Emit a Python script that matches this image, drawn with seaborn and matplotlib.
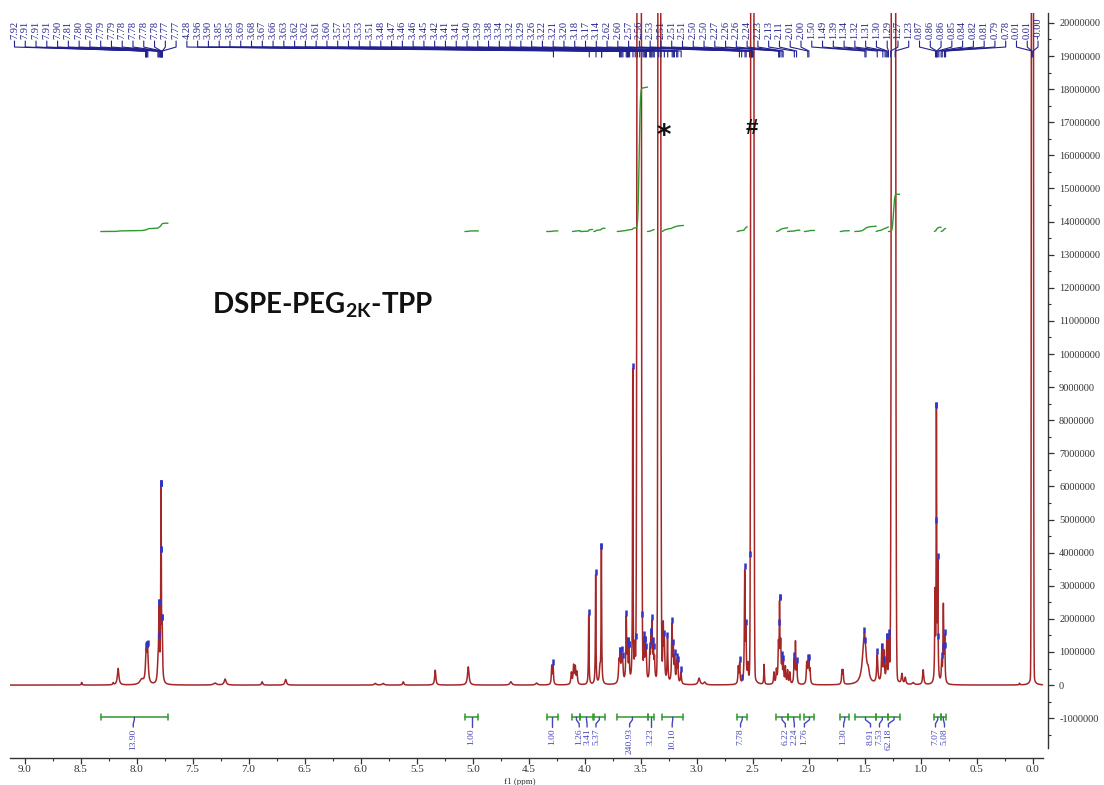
import numpy as np
import pandas as pd
import matplotlib
matplotlib.use("Agg")
import matplotlib.pyplot as plt
import matplotlib.transforms as mtransforms
from matplotlib.ticker import MultipleLocator, FuncFormatter
import seaborn as sns

sns.set_theme(style="white")
plt.rcParams['font.family'] = ['Liberation Serif', 'DejaVu Serif']
plt.rcParams['axes.unicode_minus'] = False
plt.rcParams['mathtext.fontset'] = 'custom'
plt.rcParams['mathtext.bf'] = 'Lato:bold'
plt.rcParams['mathtext.rm'] = 'Lato'
plt.rcParams['mathtext.it'] = 'Lato:italic'

# ---------------- data ----------------
# resolved (on-scale) resonances: position (ppm), height (x1e6), half width (ppm)
peak_ppm = [8.49, 8.21, 8.165, 7.955, 7.915, 7.902, 7.81, 7.800, 7.782, 7.772,
            7.30, 7.21, 6.88, 6.67, 5.87, 5.80, 5.62, 5.335, 5.04, 4.66, 4.43,
            4.295, 4.283, 4.12, 4.10, 4.085, 4.07, 3.965, 3.903, 3.865, 3.852,
            3.695, 3.685, 3.672, 3.662, 3.630, 3.618, 3.605, 3.572, 3.553,
            3.490, 3.472, 3.460, 3.452, 3.420, 3.410, 3.400, 3.388, 3.378,
            3.318, 3.300, 3.290, 3.262, 3.222, 3.210, 3.198, 3.180, 3.170, 3.142,
            2.98, 2.93, 2.630, 2.618, 2.573, 2.562, 2.545, 2.400, 2.312, 2.290,
            2.272, 2.262, 2.252, 2.240, 2.228, 2.210, 2.190, 2.170,
            2.132, 2.120, 2.108, 2.020, 2.010, 2.000, 1.990, 1.705, 1.695,
            1.505, 1.470, 1.390, 1.348, 1.330, 1.305, 1.285, 1.170, 1.140, 1.070,
            0.980, 0.875, 0.862, 0.850, 0.815, 0.800, 0.788, 0.12]
peak_height = [0.08, 0.06, 0.50, 0.15, 0.85, 0.95, 0.45, 2.1, 5.7, 1.4,
               0.06, 0.18, 0.10, 0.17, 0.05, 0.05, 0.10, 0.45, 0.55, 0.10, 0.06,
               0.55, 0.55, 0.35, 0.55, 0.50, 0.35, 2.1, 3.3, 0.45, 4.0,
               0.6, 0.7, 0.7, 0.55, 1.9, 0.9, 0.9, 9.4, 1.0,
               1.6, 1.1, 0.9, 0.7, 0.8, 1.1, 1.6, 0.9, 0.6,
               1.3, 1.6, 1.1, 1.3, 1.7, 0.9, 0.7, 0.6, 0.55, 0.35,
               0.2, 0.08, 0.5, 0.6, 3.3, 1.4, 0.5, 0.6, 0.35, 0.4,
               1.1, 2.2, 1.1, 0.6, 0.55, 0.5, 0.4, 0.35,
               0.7, 1.2, 0.55, 0.6, 0.55, 0.6, 0.4, 0.4, 0.4,
               1.55, 0.25, 0.85, 1.1, 0.9, 1.2, 1.3, 0.3, 0.2, 0.06,
               0.45, 2.6, 8.0, 3.4, 0.6, 2.3, 1.3, 0.05]
peak_width = [0.004, 0.004, 0.008, 0.020, 0.007, 0.007, 0.006, 0.004, 0.003, 0.004,
              0.015, 0.010, 0.006, 0.008, 0.010, 0.010, 0.006, 0.006, 0.008, 0.010, 0.010,
              0.004, 0.004, 0.005, 0.005, 0.005, 0.005, 0.003, 0.0028, 0.006, 0.0028,
              0.005, 0.005, 0.005, 0.005, 0.004, 0.004, 0.004, 0.0025, 0.004,
              0.004, 0.004, 0.004, 0.004, 0.004, 0.004, 0.004, 0.004, 0.004,
              0.004, 0.004, 0.004, 0.004, 0.004, 0.004, 0.004, 0.004, 0.004, 0.005,
              0.010, 0.010, 0.004, 0.004, 0.0035, 0.0035, 0.004, 0.003, 0.004, 0.004,
              0.004, 0.003, 0.004, 0.004, 0.004, 0.004, 0.004, 0.004,
              0.004, 0.003, 0.004, 0.004, 0.004, 0.004, 0.004, 0.004, 0.004,
              0.018, 0.010, 0.006, 0.005, 0.005, 0.004, 0.004, 0.006, 0.006, 0.010,
              0.006, 0.003, 0.0025, 0.003, 0.004, 0.0035, 0.0035, 0.004]

# off-scale resonances (PEG, H2O*, DMSO#, CH2 chain, TMS)
big_ppm = [3.515, 3.335, 2.505, 1.245, 0.005]
big_height = [300.0, 200.0, 250.0, 300.0, 200.0]
big_sigma = [0.0085, 0.006, 0.0065, 0.0085, 0.0045]
big_base = [1.6, 0.8, 1.2, 1.4, 0.6]

# peak-picking labels along the top
picked_labels = ['7.92', '7.91', '7.91', '7.91', '7.90', '7.81', '7.80', '7.80', '7.79', '7.79',
                 '7.78', '7.78', '7.78', '7.78', '7.77', '7.77',
                 '4.28', '3.96', '3.90', '3.85', '3.85', '3.69', '3.68', '3.67', '3.66', '3.63',
                 '3.62', '3.62', '3.61', '3.60', '3.57', '3.55', '3.53', '3.51', '3.48', '3.47',
                 '3.46', '3.46', '3.45', '3.42', '3.41', '3.41', '3.40', '3.39', '3.38', '3.34',
                 '3.32', '3.29', '3.26', '3.22', '3.21', '3.20', '3.18', '3.17', '3.14', '2.62',
                 '2.60', '2.57', '2.56', '2.53', '2.51', '2.51', '2.51', '2.50', '2.50', '2.27',
                 '2.26', '2.26', '2.24', '2.23', '2.13', '2.11', '2.01', '2.00', '1.50', '1.49',
                 '1.39', '1.34', '1.32', '1.31', '1.30', '1.29', '1.27', '1.23',
                 '0.87', '0.86', '0.86', '0.85', '0.84', '0.82', '0.81', '0.79', '0.78',
                 '0.01', '0.01', '-0.00']

# integrals: region limits (ppm), value, label position (ppm)
int_from = [8.32, 5.07, 4.34, 4.11, 4.04, 3.92, 3.71, 3.44, 3.31, 2.64,
            2.29, 2.19, 2.04, 1.72, 1.59, 1.40, 1.29, 0.88, 0.82]
int_to = [7.72, 4.95, 4.24, 4.04, 3.93, 3.82, 3.44, 3.38, 3.12, 2.55,
          2.19, 2.08, 1.95, 1.64, 1.40, 1.29, 1.19, 0.82, 0.78]
int_labels = ['13.90', '1.00', '1.00', '1.26', '3.41', '5.37', '240.93', '3.23', '10.10', '7.78',
              '6.22', '2.24', '1.76', '1.30', '8.91', '7.53', '62.18', '7.07', '5.08']
int_label_ppm = [8.03, 5.01, 4.29, 4.05, 3.98, 3.90, 3.60, 3.41, 3.22, 2.61,
                 2.21, 2.13, 2.04, 1.69, 1.45, 1.37, 1.29, 0.87, 0.79]

y_ticks_M = list(range(-1, 21))
x_ticks = [9.0, 8.5, 8.0, 7.5, 7.0, 6.5, 6.0, 5.5, 5.0, 4.5, 4.0, 3.5, 3.0, 2.5, 2.0, 1.5, 1.0, 0.5, 0.0]

# ---------------- build spectrum ----------------
ppm = np.linspace(9.13, -0.085, 26000)
spec = np.zeros_like(ppm)
for p, h, w in zip(peak_ppm, peak_height, peak_width):
    spec += h * 1e6 * w ** 2 / ((ppm - p) ** 2 + w ** 2)
for p, h, s, b in zip(big_ppm, big_height, big_sigma, big_base):
    spec += h * 1e6 * np.exp(-0.5 * ((ppm - p) / s) ** 2)
    spec += b * 1e6 * 0.012 ** 2 / ((ppm - p) ** 2 + 0.012 ** 2)

df = pd.DataFrame({'ppm': ppm, 'intensity': spec})

# ---------------- figure ----------------
W, H = 1104, 785
fig = plt.figure(figsize=(W / 100, H / 100), dpi=100)
ax = fig.add_axes([10 / W, 1 - 748 / H, 1038 / W, 735 / H])

YMIN, YMAX = -1.90e6, 20.30e6
ax.set_xlim(9.13, -0.134)
ax.set_ylim(YMIN, YMAX)

red = '#a42626'
blue = '#22228e'
lblue = '#4646bb'
green = '#2f9a2f'

sns.lineplot(data=df, x='ppm', y='intensity', sort=False, estimator=None, errorbar=None,
             color=red, linewidth=1.1, ax=ax)

# integral curves
base = 13.70e6
per_unit = 0.0181e6
for a, b, lab in zip(int_from, int_to, int_labels):
    m = (ppm <= a) & (ppm >= b)
    cum = np.cumsum(spec[m])
    cum = cum / cum[-1]
    yv = base + float(lab) * per_unit * cum
    sns.lineplot(x=ppm[m], y=yv, sort=False, estimator=None, errorbar=None,
                 color=green, linewidth=1.0, ax=ax)

# peak-pick markers on spectrum
mx, my = [], []
for s in picked_labels:
    p = float(s)
    m = np.abs(ppm - p) <= 0.006
    i = np.argmax(spec[m])
    mx.append(ppm[m][i])
    my.append(spec[m][i] + 0.10e6)
ax.plot(mx, my, linestyle='none', marker='|', ms=4.5, mew=1.8, color='#3434c4', zorder=3)

# peak labels at top
trans = mtransforms.blended_transform_factory(ax.transData, ax.transAxes)
label_x = np.linspace(9.09, -0.045, len(picked_labels))
for lx, s in zip(label_x, picked_labels):
    p = float(s)
    ax.text(lx, 0.9646, s, rotation=90, ha='center', va='bottom', fontsize=7.5,
            color=blue, transform=trans, clip_on=False)
    ax.plot([lx, lx, p, p], [0.9619, 0.9537, 0.9483, 0.9401], color=blue, lw=0.8,
            transform=trans, clip_on=False)

# integral brackets below baseline
yb = -0.967e6
for a, b, lab, lp in zip(int_from, int_to, int_labels, int_label_ppm):
    c = (a + b) / 2
    ax.plot([a, b], [yb, yb], color=green, lw=1.1)
    ax.plot([a, a], [yb - 0.09e6, yb + 0.09e6], color=green, lw=1.1)
    ax.plot([b, b], [yb - 0.09e6, yb + 0.09e6], color=green, lw=1.1)
    ax.plot([c, c, lp, lp], [yb, yb - 0.08e6, yb - 0.20e6, yb - 0.30e6], color=lblue, lw=1.0)
    ax.text(lp, yb - 0.34e6, lab, rotation=90, ha='center', va='top', fontsize=6.8,
            color=lblue, clip_on=False)

# solvent marks
ax.text(3.30, 16.6e6, '*', ha='center', va='center', fontsize=20, fontweight='bold',
        family='DejaVu Sans', color='#111111')
ax.text(2.51, 16.8e6, '#', ha='center', va='center', fontsize=16, fontweight='bold',
        family='Liberation Sans', color='#111111')

# title
fig.text(212 / W, 1 - 305 / H, r'DSPE-PEG$_{\mathbf{2K}}$-TPP', ha='left', va='center',
         fontsize=20, fontweight='bold', family='Lato', color='#111111')

# axes styling
for sp in ['left', 'top']:
    ax.spines[sp].set_visible(False)
ax.spines['right'].set_color('#333333')
ax.spines['bottom'].set_color('#333333')
ax.spines['right'].set_linewidth(1.0)
ax.spines['bottom'].set_linewidth(1.0)
ax.spines['bottom'].set_position(('outward', 7))
ax.spines['bottom'].set_bounds(9.13, -0.085)

ax.yaxis.tick_right()
ax.set_yticks([v * 1e6 for v in y_ticks_M])
ax.yaxis.set_minor_locator(MultipleLocator(0.5e6))
ax.yaxis.set_major_formatter(FuncFormatter(lambda v, pos: f'{int(round(v))}'))
ax.set_xticks(x_ticks)
ax.xaxis.set_minor_locator(MultipleLocator(0.25))
ax.xaxis.set_major_formatter(FuncFormatter(lambda v, pos: f'{abs(v):.1f}' if abs(v) < 1e-9 else f'{v:.1f}'))

ax.tick_params(axis='y', which='major', direction='out', length=4, width=0.9, pad=4,
               labelsize=7.5, colors='#333333', right=True, left=False)
ax.tick_params(axis='y', which='minor', direction='out', length=2.5, width=0.8, right=True, left=False,
               colors='#333333')
ax.tick_params(axis='x', which='major', direction='out', length=4, width=0.9, pad=1.0,
               labelsize=8.0, colors='#333333', bottom=True)
ax.tick_params(axis='x', which='minor', direction='out', length=2.5, width=0.8, bottom=True,
               colors='#333333')
ax.set_xlabel('f1 (ppm)', fontsize=6.5, color='#333333')
ax.xaxis.set_label_coords(0.491, -0.0405)
ax.set_ylabel('')
ax.grid(False)

fig.savefig('out.png', dpi=100)
